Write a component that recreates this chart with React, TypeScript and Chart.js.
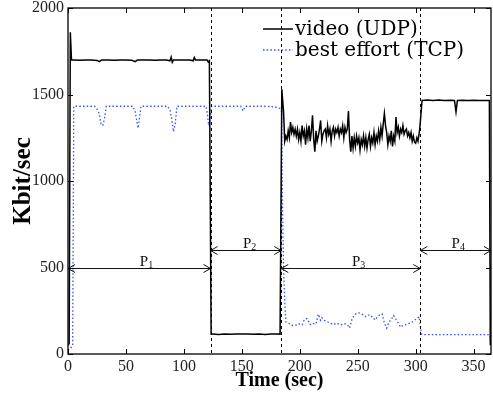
import React, { useEffect, useRef } from "react";
import { Chart, registerables } from "chart.js";

Chart.register(...registerables);

// ---- data ----
const videoTime = [
  0, 1, 2, 3, 5, 10, 15, 20, 25, 27, 29, 35, 40, 45, 50, 55, 58, 60, 65, 70, 75, 80, 85, 88, 89, 90, 91, 95, 100, 105, 108, 109, 110, 115, 120, 121, 122, 123.5,
  125, 130, 135, 140, 145, 150, 155, 160, 165, 170, 175, 180, 183,
  184.5, 186, 187, 188, 189, 190, 191, 192, 193, 194, 195, 196, 197, 198, 199, 200, 201, 202, 203, 204, 205, 206, 207, 208, 209, 210,
  211, 212, 213, 214, 215, 216, 217, 218, 219, 220, 221, 222, 223, 224, 225, 226, 227, 228, 229, 230,
  231, 232, 233, 234, 235, 236, 237, 238, 239, 240, 241, 242, 243, 244, 245, 246, 247, 248, 249, 250,
  251, 252, 253, 254, 255, 256, 257, 258, 259, 260, 261, 262, 263, 264, 265, 266, 267, 268, 269, 270,
  271, 272, 273, 274, 275, 276, 277, 278, 279, 280, 281, 282, 283, 284, 285, 286, 287, 288, 289, 290,
  291, 292, 293, 294, 295, 296, 297, 298, 299, 300, 301, 302, 303.5,
  305.5, 310, 315, 320, 325, 330, 333.5, 334.8, 336, 340, 345, 350, 355, 360, 363.6, 364.4,
];
const videoKbps = [
  50, 60, 1860, 1700, 1700, 1698, 1700, 1700, 1697, 1690, 1700, 1700, 1698, 1700, 1700, 1698, 1690, 1700, 1700, 1700, 1698, 1700, 1700, 1695, 1716, 1686, 1700, 1700, 1700, 1700, 1695, 1714, 1700, 1700, 1700, 1688, 1695, 115,
  115, 113, 115, 114, 115, 116, 115, 114, 115, 113, 115, 116, 115,
  1530, 1400, 1230, 1260, 1240, 1290, 1250, 1340, 1280, 1310, 1270, 1300, 1260, 1300, 1240, 1280, 1230, 1320, 1260, 1290, 1210, 1300, 1250, 1320, 1230, 1290,
  1380, 1240, 1170, 1290, 1230, 1260, 1300, 1350, 1230, 1270, 1290, 1300, 1250, 1320, 1270, 1300, 1230, 1290, 1310, 1260,
  1300, 1280, 1310, 1260, 1300, 1280, 1320, 1250, 1310, 1280, 1300, 1405, 1240, 1170, 1260, 1190, 1250, 1200, 1260, 1220,
  1250, 1180, 1240, 1210, 1260, 1200, 1250, 1190, 1240, 1270, 1200, 1250, 1220, 1280, 1210, 1260, 1230, 1290, 1240, 1310,
  1260, 1330, 1390, 1320, 1280, 1210, 1260, 1230, 1290, 1200, 1260, 1230, 1370, 1280, 1310, 1260, 1300, 1280, 1320, 1270,
  1290, 1300, 1260, 1280, 1250, 1280, 1230, 1260, 1225, 1218, 1250, 1230, 1300,
  1465, 1468, 1465, 1468, 1465, 1467, 1465, 1400, 1465, 1467, 1465, 1467, 1465, 1466, 1465, 50,
];

const tcpTime = [
  0, 3, 4, 5, 10, 15, 20, 23, 25, 27, 28.5, 30, 31.5, 33, 40, 45, 50, 56, 58, 59.5, 60.5, 62, 63, 70, 75, 80, 86, 88, 89.5, 91, 92.5, 94, 100, 105, 110, 115, 119, 120, 121.5, 123, 124,
  130, 135, 140, 146, 149, 151, 153, 160, 165, 170, 175, 180, 183, 184.3, 185, 186, 187,
  188, 190, 192, 194, 196, 198, 200, 202, 204, 206, 207, 209, 211, 213, 214, 216, 218, 219, 221, 223, 225, 227, 229, 231, 233, 235, 237, 239, 241, 243, 245, 247, 249, 251, 253, 255, 257, 259, 261, 263, 265,
  267, 269, 271, 273, 275, 277, 279, 281, 283, 285, 287, 289, 291, 293, 295, 297, 299, 301, 303,
  305, 307, 315, 325, 335, 345, 355, 364, 364.8,
];
const tcpKbps = [
  20, 40, 50, 1432, 1432, 1432, 1432, 1432, 1415, 1390, 1330, 1320, 1360, 1432, 1432, 1432, 1432, 1432, 1400, 1340, 1306, 1380, 1432, 1432, 1432, 1432, 1432, 1410, 1360, 1285, 1330, 1432, 1432, 1432, 1432, 1432, 1432, 1400, 1320, 1380, 1432,
  1432, 1432, 1432, 1432, 1432, 1405, 1432, 1432, 1432, 1432, 1430, 1425, 1420, 1400, 900, 500, 300,
  185, 180, 170, 165, 168, 165, 175, 170, 200, 205, 195, 170, 178, 172, 175, 230, 195, 210, 195, 190, 182, 175, 178, 170, 175, 168, 172, 175, 170, 150, 200, 225, 235, 238, 232, 225, 215, 225, 225, 210, 197,
  215, 225, 232, 180, 150, 185, 200, 222, 200, 180, 155, 165, 168, 175, 178, 185, 195, 205, 215,
  115, 112, 112, 112, 112, 112, 112, 112, 70,
];

const seriesLabels = ["video (UDP)", "best effort (TCP)"];
const phaseBounds = [0, 123, 184, 304, 365];
const phaseArrowLevels = [500, 600, 500, 600];
const phaseLabelX = [62, 151, 245, 331];
const phaseNames = ["1", "2", "3", "4"];
const xTicks = [0, 50, 100, 150, 200, 250, 300, 350];
const yTicks = [0, 500, 1000, 1500, 2000];

const FONT = "'Liberation Serif', 'Times New Roman', serif";
const LEGEND_FONT = "'DejaVu Serif', serif";

const decorPlugin = {
  id: "decor",
  afterDatasetsDraw(chart: any) {
    const { ctx, chartArea } = chart;
    const xs = chart.scales.x;
    const ys = chart.scales.y;
    const { left, right, top, bottom } = chartArea;
    ctx.save();

    // dashed phase boundaries
    ctx.strokeStyle = "#000";
    ctx.lineWidth = 1;
    ctx.setLineDash([3, 3]);
    for (let i = 1; i < phaseBounds.length - 1; i++) {
      const px = Math.round(xs.getPixelForValue(phaseBounds[i])) + 0.5;
      ctx.beginPath();
      ctx.moveTo(px, top);
      ctx.lineTo(px, bottom);
      ctx.stroke();
    }
    ctx.setLineDash([]);

    // arrows and labels
    for (let i = 0; i < phaseNames.length; i++) {
      const x1 = xs.getPixelForValue(phaseBounds[i]);
      const x2 = xs.getPixelForValue(phaseBounds[i + 1]);
      const y = Math.round(ys.getPixelForValue(phaseArrowLevels[i])) + 0.5;
      ctx.strokeStyle = "#111";
      ctx.lineWidth = 1;
      ctx.beginPath();
      ctx.moveTo(x1, y);
      ctx.lineTo(x2, y);
      ctx.moveTo(x1 + 7, y - 4);
      ctx.lineTo(x1, y);
      ctx.lineTo(x1 + 7, y + 4);
      ctx.moveTo(x2 - 7, y - 4);
      ctx.lineTo(x2, y);
      ctx.lineTo(x2 - 7, y + 4);
      ctx.stroke();
      const lx = xs.getPixelForValue(phaseLabelX[i]);
      ctx.fillStyle = "#111";
      ctx.textBaseline = "alphabetic";
      ctx.textAlign = "left";
      ctx.font = `15px ${FONT}`;
      ctx.fillText("P", lx, y - 3);
      const w = ctx.measureText("P").width;
      ctx.font = `10px ${FONT}`;
      ctx.fillText(phaseNames[i], lx + w, y - 1);
    }

    // frame
    ctx.strokeStyle = "#000";
    ctx.lineWidth = 1.3;
    ctx.strokeRect(left, top, right - left, bottom - top);

    // inward ticks
    ctx.lineWidth = 1;
    const tl = 5;
    ctx.beginPath();
    for (const v of xTicks) {
      const px = Math.round(xs.getPixelForValue(v)) + 0.5;
      ctx.moveTo(px, bottom);
      ctx.lineTo(px, bottom - tl);
      ctx.moveTo(px, top);
      ctx.lineTo(px, top + tl);
    }
    for (const v of yTicks) {
      const py = Math.round(ys.getPixelForValue(v)) + 0.5;
      ctx.moveTo(left, py);
      ctx.lineTo(left + tl, py);
      ctx.moveTo(right, py);
      ctx.lineTo(right - tl, py);
    }
    ctx.stroke();

    // legend
    const ds = chart.data.datasets;
    const lx0 = left + 195;
    const ly0 = top + 21;
    ctx.font = `20px ${LEGEND_FONT}`;
    ctx.textAlign = "left";
    ctx.textBaseline = "middle";
    for (let i = 0; i < ds.length; i++) {
      const y = ly0 + i * 21;
      ctx.strokeStyle = ds[i].borderColor;
      ctx.lineWidth = ds[i].borderWidth;
      ctx.setLineDash(ds[i].borderDash || []);
      ctx.beginPath();
      ctx.moveTo(lx0, y);
      ctx.lineTo(lx0 + 30, y);
      ctx.stroke();
      ctx.setLineDash([]);
      ctx.fillStyle = "#000";
      ctx.fillText(ds[i].label, lx0 + 32, y + 1);
    }
    ctx.restore();
  },
};

export default function App() {
  const ref = useRef<HTMLCanvasElement | null>(null);
  useEffect(() => {
    document.body.style.margin = "0";
    if (!ref.current) return;
    const chart = new Chart(ref.current, {
      type: "line",
      data: {
        datasets: [
          {
            label: seriesLabels[0],
            data: videoTime.map((t, i) => ({ x: t, y: videoKbps[i] })),
            borderColor: "#000",
            borderWidth: 1.5,
            pointRadius: 0,
            tension: 0,
            fill: false,
          },
          {
            label: seriesLabels[1],
            data: tcpTime.map((t, i) => ({ x: t, y: tcpKbps[i] })),
            borderColor: "rgba(30,60,255,0.9)",
            borderWidth: 1.3,
            borderDash: [1.5, 2.2],
            pointRadius: 0,
            tension: 0,
            fill: false,
          } as any,
        ],
      },
      options: {
        animation: false,
        responsive: false,
        devicePixelRatio: 1,
        layout: { padding: { top: 8, right: 2, left: 0, bottom: 0 } },
        plugins: { legend: { display: false }, tooltip: { enabled: false } },
        scales: {
          x: {
            type: "linear",
            min: 0,
            max: 365,
            grid: { display: false, drawTicks: false },
            border: { display: false },
            ticks: {
              stepSize: 50,
              includeBounds: false,
              padding: 3,
              maxRotation: 0,
              color: "#222",
              font: { family: FONT, size: 16 },
              callback: (v: any) => String(v),
            },
            title: {
              display: true,
              text: "Time (sec)",
              color: "#000",
              font: { family: FONT, size: 20, weight: "bold" },
              padding: { top: 0, bottom: 5 },
            },
            afterFit: (s: any) => {
              s.height = 44;
              s.paddingLeft = 0;
              s.paddingRight = 0;
            },
          },
          y: {
            type: "linear",
            min: 0,
            max: 2000,
            grid: { display: false, drawTicks: false },
            border: { display: false },
            ticks: {
              stepSize: 500,
              padding: 4,
              color: "#222",
              font: { family: FONT, size: 16 },
              callback: (v: any) => String(v),
            },
            title: {
              display: true,
              text: "Kbit/sec",
              color: "#000",
              font: { family: FONT, size: 25, weight: "bold" },
              padding: { top: 9, bottom: 0 },
            },
            afterFit: (s: any) => {
              s.width = 68;
              s.paddingTop = 0;
              s.paddingBottom = 0;
            },
          },
        },
      },
      plugins: [decorPlugin],
    });
    return () => chart.destroy();
  }, []);
  return (
    <div style={{ width: 493, height: 398, position: "relative", background: "#fff" }}>
      <canvas ref={ref} width={493} height={398} style={{ display: "block" }} />
    </div>
  );
}
